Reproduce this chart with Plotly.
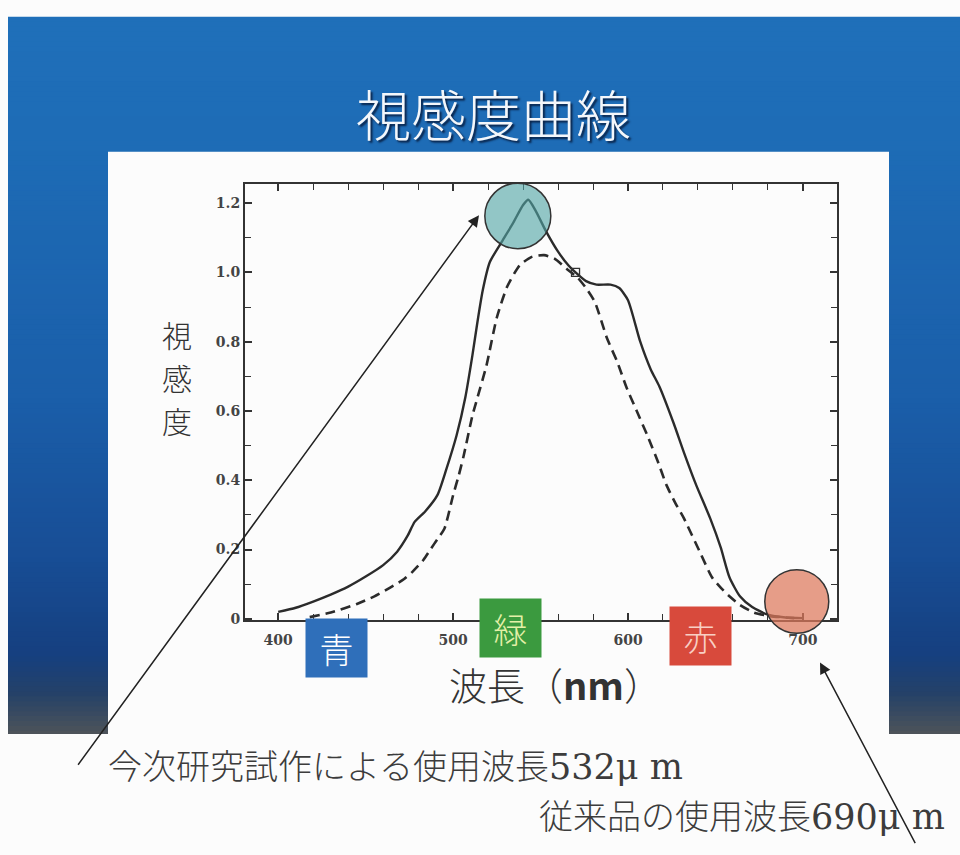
import plotly.graph_objects as go

# ---------------- data ----------------
solid_nm = [400, 410, 420, 430, 440, 450, 460, 468, 474, 478, 484, 491, 496, 502, 507, 511, 514, 517,
            521, 528, 534, 540, 543, 547, 553, 560, 566, 570, 576, 582, 590, 595, 600, 607, 613, 618,
            626, 632, 639, 647, 653, 658, 664, 671, 680, 690, 700]
solid_v = [0.02, 0.032, 0.05, 0.07, 0.093, 0.122, 0.155, 0.194, 0.24, 0.28, 0.31, 0.357, 0.43, 0.53,
           0.64, 0.76, 0.86, 0.95, 1.03, 1.09, 1.14, 1.195, 1.21, 1.18, 1.12, 1.06, 1.02, 1.0, 0.975,
           0.965, 0.965, 0.955, 0.92, 0.80, 0.72, 0.67, 0.566, 0.48, 0.386, 0.29, 0.206, 0.12, 0.065,
           0.034, 0.012, 0.004, 0.002]

dashed_nm = [418, 430, 445, 455, 464, 472, 477, 483, 487, 491, 495, 500, 503, 506, 511, 514, 519, 525,
             531, 538, 545, 552, 558, 565, 571, 576, 581, 588, 594, 599, 605, 611, 617, 622, 627, 632,
             641, 648, 653, 658, 664, 672, 681, 695]
dashed_v = [0.005, 0.018, 0.043, 0.065, 0.09, 0.115, 0.137, 0.17, 0.2, 0.23, 0.26, 0.357, 0.41, 0.47,
            0.586, 0.64, 0.73, 0.87, 0.96, 1.02, 1.045, 1.05, 1.04, 1.01, 0.986, 0.955, 0.915, 0.81,
            0.74, 0.67, 0.6, 0.53, 0.455, 0.386, 0.335, 0.29, 0.194, 0.12, 0.09, 0.065, 0.04, 0.018,
            0.008, 0.002]

cross_nm = [570]
cross_v = [1.0]

x_tickvals = [400, 500, 600, 700]
x_ticktext = ["400", "500", "600", "700"]
y_tickvals = [0, 0.2, 0.4, 0.6, 0.8, 1.0, 1.2]
y_ticktext = ["0", "0.2", "0.4", "0.6", "0.8", "1.0", "1.2"]

highlight_nm = [537, 696.5]   # circle centres
highlight_v = [1.163, 0.05]

color_labels = ["青", "緑", "赤"]

title_text = "視感度曲線"
ylabel_chars = ["視", "感", "度"]
xlabel_text = "波長（<b>nm</b>）"
note1_jp, note1_num = "今次研究試作による使用波長", "532μ m"
note2_jp, note2_num = "従来品の使用波長", "690μ m"

# ---------------- layout helpers ----------------
W, H = 960, 855
X_RANGE = [381, 719.5]
Y_RANGE = [-0.003, 1.254]
PLOT_L, PLOT_R, PLOT_T, PLOT_B = 245, 837, 186, 625


def px(x):
    return x / W


def py(y):
    return 1 - y / H


def data_to_px(nm, v):
    xp = PLOT_L + (nm - X_RANGE[0]) / (X_RANGE[1] - X_RANGE[0]) * (PLOT_R - PLOT_L)
    yp = PLOT_B - (v - Y_RANGE[0]) / (Y_RANGE[1] - Y_RANGE[0]) * (PLOT_B - PLOT_T)
    return xp, yp


CJK = "Noto Sans CJK JP"
SERIF = "DejaVu Serif"

fig = go.Figure()
fig.add_trace(go.Scatter(x=solid_nm, y=solid_v, mode="lines",
                         line=dict(color="#2b2b2b", width=2.4, shape="spline", smoothing=0.6),
                         showlegend=False, hoverinfo="skip"))
fig.add_trace(go.Scatter(x=dashed_nm, y=dashed_v, mode="lines",
                         line=dict(color="#2b2b2b", width=2.6, dash="10px,6px", shape="spline",
                                   smoothing=0.6),
                         showlegend=False, hoverinfo="skip"))
fig.add_trace(go.Scatter(x=cross_nm, y=cross_v, mode="markers",
                         marker=dict(symbol="square-open", size=8, color="#333",
                                     line=dict(width=1.3, color="#333")),
                         showlegend=False, hoverinfo="skip"))

shapes = []
# gradient slide background
stops = [(17, (32, 112, 186)), (150, (30, 108, 182)), (400, (27, 95, 170)), (560, (24, 78, 150)),
         (660, (22, 64, 128)), (700, (38, 66, 104)), (740, (78, 84, 90))]
step = 5
y = stops[0][0]
while y < stops[-1][0]:
    ym = y + step / 2
    for i in range(len(stops) - 1):
        if stops[i][0] <= ym <= stops[i + 1][0]:
            t = (ym - stops[i][0]) / (stops[i + 1][0] - stops[i][0])
            c = tuple(int(stops[i][1][k] + t * (stops[i + 1][1][k] - stops[i][1][k])) for k in range(3))
            break
    shapes.append(dict(type="rect", xref="paper", yref="paper", x0=px(8), x1=px(960),
                       y0=py(min(y + step + 2, stops[-1][0])), y1=py(y),
                       fillcolor="rgb(%d,%d,%d)" % c, line=dict(width=0), layer="below"))
    y += step
# white panel
shapes.append(dict(type="rect", xref="paper", yref="paper", x0=px(108), x1=px(889),
                   y0=-0.01, y1=py(153), fillcolor="#fcfcfc", line=dict(width=0), layer="below"))

# highlight circles
circle_styles = [("rgba(80,165,165,0.62)", 33), ("rgba(222,120,92,0.72)", 32)]
for (nm, v), (fc, r) in zip(zip(highlight_nm, highlight_v), circle_styles):
    cx, cy = data_to_px(nm, v)
    shapes.append(dict(type="circle", xref="paper", yref="paper",
                       x0=px(cx - r), x1=px(cx + r), y0=py(cy + r), y1=py(cy - r),
                       fillcolor=fc, line=dict(color="#333", width=1.5), layer="above"))

annotations = []
# title with shadow
annotations.append(dict(text=title_text, x=px(494), y=py(113), xref="paper", yref="paper",
                        showarrow=False,
                        font=dict(family=CJK, size=55, color="#f4f7fb", weight=300,
                                  shadow="2px 2px 2px rgba(5,20,50,0.85)"),
                        xanchor="center", yanchor="middle"))
# y label (stacked characters)
for i, ch in enumerate(ylabel_chars):
    annotations.append(dict(text=ch, x=px(177), y=py(337 + i * 43), xref="paper", yref="paper",
                            showarrow=False, font=dict(family=CJK, size=30, color="#333", weight=300),
                            xanchor="center", yanchor="middle"))
# x label
annotations.append(dict(text=xlabel_text, x=px(555), y=py(689), xref="paper", yref="paper",
                        showarrow=False, font=dict(family=CJK, size=38, color="#333", weight=300),
                        xanchor="center", yanchor="middle"))
# colour boxes
box_specs = [((336.5, 653), "#2f6fba", "#ffffff"), ((510, 633), "#3b9a3f", "#e4f0a8"),
             ((700.5, 641), "#d84a3c", "#f8cfc4")]
for lab, ((bx, by), bg, fc) in zip(color_labels, box_specs):
    annotations.append(dict(text=lab, x=px(bx), y=py(by), xref="paper", yref="paper",
                            showarrow=False, font=dict(family=CJK, size=34, color=fc, weight=300),
                            bgcolor=bg, width=61, height=58, borderpad=0,
                            xanchor="center", yanchor="middle", valign="middle"))


# notes
def note(jp, num):
    return "%s<span style='font-family:%s;font-size:35px'>%s</span>" % (jp, SERIF, num)


annotations.append(dict(text=note(note1_jp, note1_num), x=px(106), y=py(771), xref="paper",
                        yref="paper", showarrow=False,
                        font=dict(family=CJK, size=34, color="#3c3c3c", weight=300),
                        xanchor="left", yanchor="middle"))
annotations.append(dict(text=note(note2_jp, note2_num), x=px(947), y=py(821), xref="paper",
                        yref="paper", showarrow=False,
                        font=dict(family=CJK, size=34, color="#3c3c3c", weight=300),
                        xanchor="right", yanchor="middle"))
# arrows
arrow_specs = [((479, 217), (77, 768)), ((820, 668), (916, 850))]
for (hx, hy), (tx, ty) in arrow_specs:
    annotations.append(dict(text="", x=px(hx), y=py(hy), xref="paper", yref="paper",
                            ax=tx - hx, ay=ty - hy, axref="pixel", ayref="pixel",
                            showarrow=True, arrowhead=2, arrowsize=1.5, arrowwidth=1.5,
                            arrowcolor="#222"))

axis_common = dict(showline=True, linecolor="#333", linewidth=2, mirror="ticks",
                   ticks="inside", ticklen=7, tickwidth=1.5, tickcolor="#333",
                   showgrid=False, zeroline=False,
                   tickfont=dict(family="DejaVu Serif", size=14, color="#444", weight="bold"))

fig.update_layout(
    width=W, height=H,
    margin=dict(l=0, r=0, t=0, b=0),
    paper_bgcolor="#fcfcfc",
    plot_bgcolor="rgba(0,0,0,0)",
    xaxis=dict(domain=[px(PLOT_L), px(PLOT_R)], range=X_RANGE, tickvals=x_tickvals,
               ticktext=x_ticktext, ticklabelstandoff=6,
               minor=dict(dtick=20, tick0=400, ticks="inside", ticklen=6, tickwidth=1.3,
                          tickcolor="#333"),
               **axis_common),
    yaxis=dict(domain=[py(PLOT_B), py(PLOT_T)], range=Y_RANGE, tickvals=y_tickvals,
               ticktext=y_ticktext,
               minor=dict(dtick=0.1, tick0=0, ticks="inside", ticklen=6, tickwidth=1.3,
                          tickcolor="#333"),
               **axis_common),
    shapes=shapes,
    annotations=annotations,
    showlegend=False,
)

fig.write_html("out.html", config={"displayModeBar": False},
               post_script="document.body.style.margin='0px';document.body.style.overflow='hidden';")
